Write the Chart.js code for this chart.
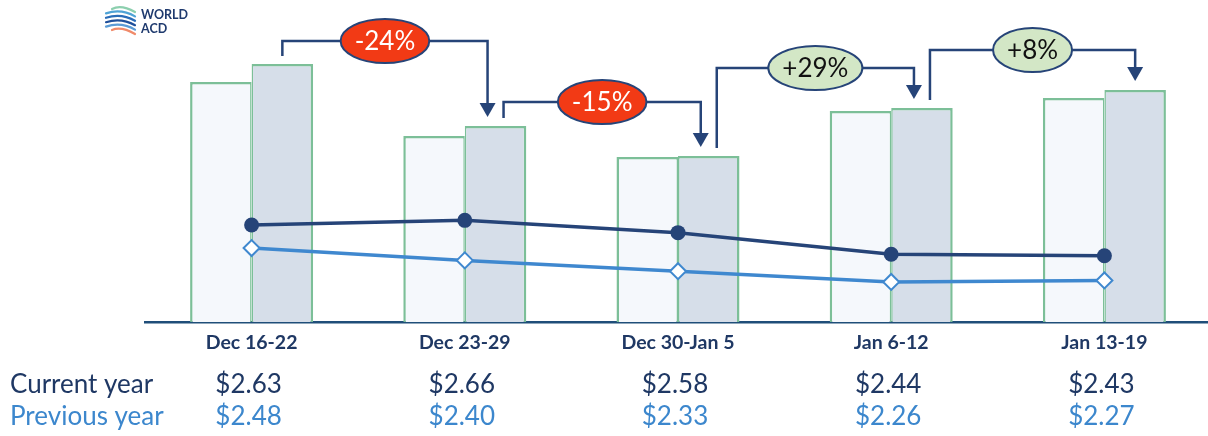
<!DOCTYPE html>
<html><head><meta charset="utf-8">
<script src="https://cdn.jsdelivr.net/npm/chart.js@4.4.1/dist/chart.umd.min.js"></script>
<style>
html,body{margin:0;padding:0;background:#fff;overflow:hidden;}
#wrap{width:1211px;height:436px;position:relative;}
</style></head><body>
<div id="wrap"><canvas id="c"></canvas></div>
<script>
const categories = ['Dec 16-22', 'Dec 23-29', 'Dec 30-Jan 5', 'Jan 6-12', 'Jan 13-19'];
const previousYearVolume = [240, 186, 165, 211, 224];
const currentYearVolume = [258, 196, 166, 214, 232];
const currentYearPrice = [2.63, 2.66, 2.58, 2.44, 2.43];
const previousYearPrice = [2.48, 2.40, 2.33, 2.26, 2.27];
const changeLabels = ['-24%', '-15%', '+29%', '+8%'];
const rowLabels = ['Current year', 'Previous year'];

const NAVY = '#264478';
const BLUE = '#3f88cf';

const overlayPlugin = {
  id: 'overlay',
  afterDatasetsDraw(chart, args, opts) {
    const ctx = chart.ctx;
    const meta = chart.getDatasetMeta(3);
    const bars = meta.data;
    ctx.save();
    for (let i = 0; i < changeLabels.length; i++) {
      const a = bars[i], b = bars[i + 1];
      const sx = a.x + (i > 0 ? 8 : 0);
      const ex = b.x - (i + 1 < bars.length - 1 ? 8 : 0);
      const startY = a.y - 8;
      const tipY = b.y - 9;
      const level = Math.min(a.y, b.y) - opts.rise[i];
      const ah = 14, aw = 8;
      ctx.strokeStyle = NAVY;
      ctx.lineWidth = 2.5;
      ctx.lineJoin = 'miter';
      ctx.beginPath();
      ctx.moveTo(sx, startY);
      ctx.lineTo(sx, level);
      ctx.lineTo(ex, level);
      ctx.lineTo(ex, tipY - ah + 1);
      ctx.stroke();
      ctx.fillStyle = NAVY;
      ctx.beginPath();
      ctx.moveTo(ex - aw, tipY - ah);
      ctx.lineTo(ex + aw, tipY - ah);
      ctx.lineTo(ex, tipY);
      ctx.closePath();
      ctx.fill();
      const label = changeLabels[i];
      const neg = label.trim().startsWith('-');
      ctx.font = '26px Lato';
      const tw = ctx.measureText(label).width;
      const cx = (sx + ex) / 2;
      const rx = tw / 2 + 14, ry = 22;
      ctx.beginPath();
      ctx.ellipse(cx, level, rx, ry, 0, 0, Math.PI * 2);
      ctx.fillStyle = neg ? '#f23a15' : '#d3e7c6';
      ctx.fill();
      ctx.lineWidth = 2;
      ctx.strokeStyle = NAVY;
      ctx.stroke();
      ctx.fillStyle = neg ? '#ffffff' : '#111111';
      ctx.textAlign = 'center';
      ctx.textBaseline = 'middle';
      ctx.fillText(label, cx, level + 1);
    }
    ctx.restore();
  },
  afterDraw(chart) {
    const ctx = chart.ctx;
    const xs = chart.scales.x;
    ctx.save();
    ctx.textBaseline = 'middle';
    ctx.font = '26px Lato';
    const rows = [
      {label: rowLabels[0], vals: currentYearPrice, color: '#1f3864', y: 385},
      {label: rowLabels[1], vals: previousYearPrice, color: '#3c87cd', y: 417}
    ];
    rows.forEach(r => {
      ctx.fillStyle = r.color;
      ctx.textAlign = 'left';
      ctx.fillText(r.label, 10, r.y);
      ctx.textAlign = 'center';
      r.vals.forEach((v, i) => {
        ctx.fillText('$' + v.toFixed(2), xs.getPixelForValue(i) - 3, r.y);
      });
    });
    const cols = ['#8ccfae', '#4fa3d6', '#2a6cb8', '#1f4f9a', '#5b9bd5', '#f08a6a'];
    ctx.lineCap = 'round';
    ctx.lineWidth = 2.2;
    cols.forEach((c, k) => {
      const y = 9 + k * 4.4;
      ctx.strokeStyle = c;
      ctx.beginPath();
      ctx.moveTo(106 + (k === 0 ? 6 : k === 5 ? 6 : 0), y + (k === 5 ? -1 : 0));
      ctx.quadraticCurveTo(121, y - 5, 135, y + 3);
      ctx.stroke();
    });
    ctx.fillStyle = '#1f3a6e';
    ctx.textAlign = 'left';
    ctx.font = 'bold 12.5px Lato';
    ctx.fillText('WORLD', 141, 15);
    ctx.fillText('ACD', 141, 29);
    ctx.restore();
  }
};

new Chart(document.getElementById('c'), {
  data: {
    labels: categories,
    datasets: [
      {type: 'line', label: rowLabels[0], data: currentYearPrice, yAxisID: 'yPrice', order: 1,
       borderColor: NAVY, backgroundColor: NAVY, borderWidth: 3.5, tension: 0,
       pointStyle: 'circle', pointRadius: 7.5, pointBackgroundColor: NAVY, pointBorderColor: NAVY, pointBorderWidth: 0},
      {type: 'line', label: rowLabels[1], data: previousYearPrice, yAxisID: 'yPrice', order: 1,
       borderColor: BLUE, backgroundColor: BLUE, borderWidth: 3.5, tension: 0,
       pointStyle: 'rectRot', pointRadius: 8, pointBackgroundColor: '#ffffff', pointBorderColor: BLUE, pointBorderWidth: 2},
      {type: 'bar', label: 'Previous year volume', data: previousYearVolume, yAxisID: 'yVol', order: 2,
       backgroundColor: '#f5f8fc', borderColor: '#7cbf98', borderWidth: {top: 2.5, left: 2.5, right: 1.5, bottom: 0}, borderSkipped: false},
      {type: 'bar', label: 'Current year volume', data: currentYearVolume, yAxisID: 'yVol', order: 2,
       backgroundColor: '#d6dee9', borderColor: '#7cbf98', borderWidth: {top: 2.5, left: 1.5, right: 2.5, bottom: 0}, borderSkipped: false}
    ]
  },
  options: {
    responsive: true, maintainAspectRatio: false, animation: false,
    layout: {autoPadding: false, padding: {left: 145, top: 20, right: 0, bottom: 0}},
    plugins: {legend: {display: false}, tooltip: {enabled: false}, overlay: {rise: [23, 24, 40, 40]}},
    datasets: {bar: {categoryPercentage: 0.577, barPercentage: 1}},
    scales: {
      x: {
        z: 1,
        grid: {display: false, drawTicks: false},
        border: {display: true, color: '#1f4e79', width: 2.5},
        ticks: {color: '#1f3864', font: {family: 'Lato', size: 19.5, weight: 'bold'}, padding: 9, maxRotation: 0, autoSkip: false},
        afterFit(s) { s.height = 114; s.paddingLeft = 0; s.paddingRight = 0; }
      },
      yVol: {type: 'linear', display: false, min: 0, max: 302},
      yPrice: {type: 'linear', display: false, min: 2.0, max: 3.961}
    }
  },
  plugins: [overlayPlugin]
});
</script>
</body></html>
